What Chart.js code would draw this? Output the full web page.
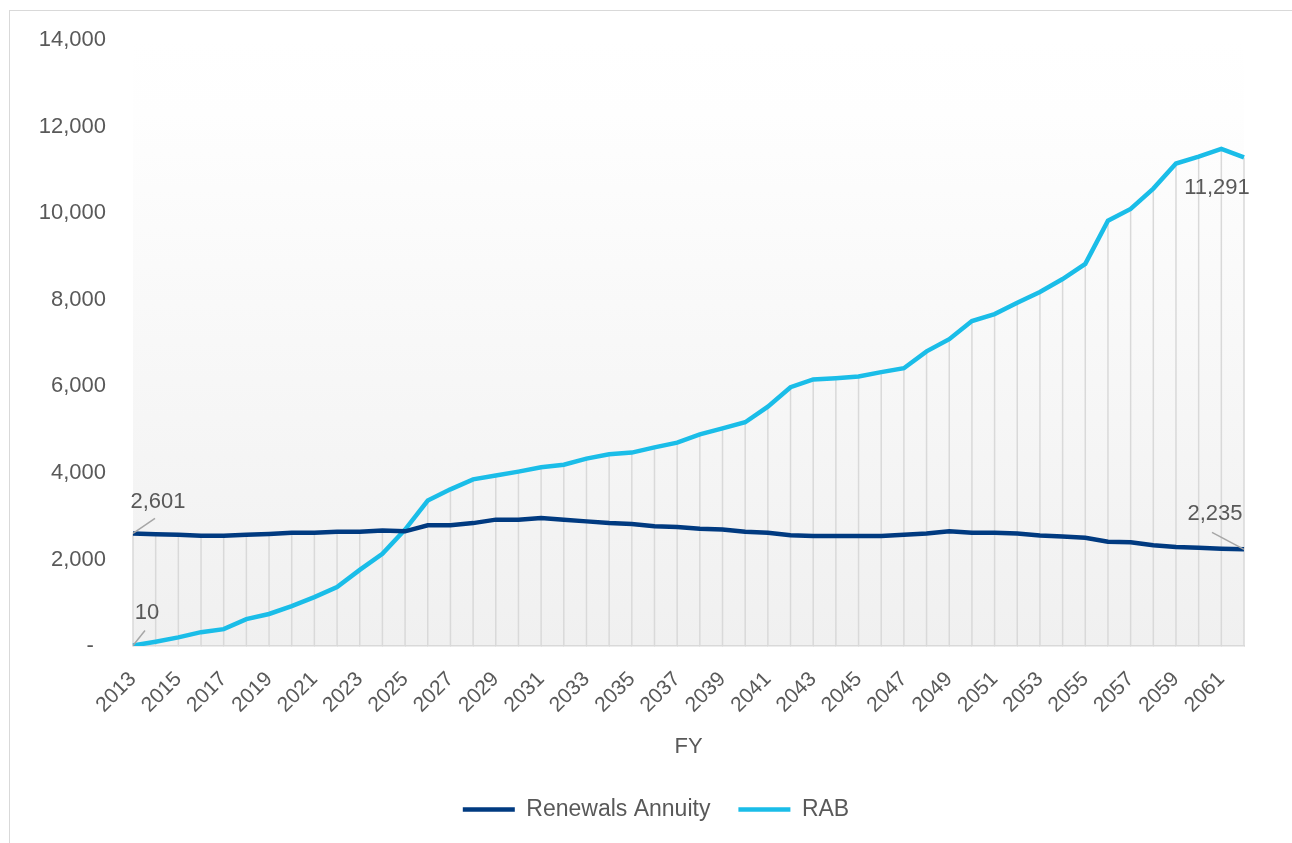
<!DOCTYPE html>
<html>
<head>
<meta charset="utf-8">
<script src="https://cdn.jsdelivr.net/npm/chart.js@4.4.1/dist/chart.umd.min.js"></script>
<style>
  body { margin: 0; background: #fff; overflow: hidden; }
  #frame { position: absolute; left: 9px; top: 10px; width: 1300px; height: 850px; border: 1px solid #d9d9d9; }
  #wrap { position: absolute; left: 0; top: 0; width: 1292px; height: 843px; }
</style>
</head>
<body>
<div id="frame"></div>
<div id="wrap"><canvas id="myChart"></canvas></div>
<script>

var years = [];
for (var y = 2013; y <= 2062; y++) years.push(String(y));

// Renewals Annuity ($m)
var renewals = [2601, 2580, 2570, 2550, 2550, 2570, 2590, 2620, 2620, 2640,
                2640, 2670, 2650, 2790, 2790, 2840, 2920, 2920, 2960, 2920,
                2880, 2840, 2820, 2770, 2750, 2710, 2690, 2640, 2615, 2560,
                2540, 2540, 2540, 2540, 2570, 2600, 2650, 2620, 2620, 2600,
                2555, 2530, 2500, 2410, 2400, 2330, 2290, 2270, 2250, 2235];

// RAB ($m)
var rab = [10, 100, 200, 320, 390, 620, 740, 920, 1130, 1360,
           1760, 2130, 2690, 3360, 3620, 3850, 3940, 4030, 4130, 4190,
           4330, 4430, 4470, 4590, 4700, 4890, 5030, 5170, 5530, 5980,
           6160, 6190, 6230, 6330, 6420, 6810, 7090, 7510, 7670, 7930,
           8180, 8480, 8830, 9830, 10100, 10570, 11150, 11310, 11490, 11291];

var yTicks = [0, 2000, 4000, 6000, 8000, 10000, 12000, 14000];

var textCol = '#595959';
var font = "'Liberation Sans', Arial, sans-serif";

function fmt(v){
  return v === 0 ? '-' : v.toLocaleString('en-US');
}

// gradient plot background
var bgPlugin = {
  id: 'bg',
  beforeDraw: function(chart){
    var a = chart.chartArea, ctx = chart.ctx;
    var g = ctx.createLinearGradient(0, a.top, 0, a.bottom);
    g.addColorStop(0, '#ffffff');
    g.addColorStop(0.12, '#fefefe');
    g.addColorStop(1, '#f0f0f0');
    ctx.save();
    ctx.fillStyle = g;
    ctx.fillRect(a.left, a.top, a.right - a.left, a.bottom - a.top);
    ctx.restore();
  }
};

// drop lines from the top series down to the axis
var dropPlugin = {
  id: 'drop',
  beforeDatasetsDraw: function(chart){
    var ctx = chart.ctx, xs = chart.scales.x, ys = chart.scales.y;
    ctx.save();
    ctx.strokeStyle = '#d9d9d9';
    ctx.lineWidth = 1.5;
    for (var i = 0; i < years.length; i++){
      var x = xs.getPixelForValue(i);
      var top = ys.getPixelForValue(Math.max(renewals[i], rab[i]));
      ctx.beginPath();
      ctx.moveTo(x, top);
      ctx.lineTo(x, ys.getPixelForValue(0));
      ctx.stroke();
    }
    ctx.restore();
  }
};

// data labels at first and last points
var labelPlugin = {
  id: 'labels',
  afterDatasetsDraw: function(chart){
    var ctx = chart.ctx, xs = chart.scales.x, ys = chart.scales.y;
    var last = years.length - 1;
    var items = [
      { i: 0, v: renewals[0], dx: 25, dy: -32, lead: [0, 0, 22, -15] },
      { i: 0, v: rab[0], dx: 14, dy: -33, lead: [0, 0, 12, -15] },
      { i: last, v: rab[last], dx: -27, dy: 31, lead: null },
      { i: last, v: renewals[last], dx: -29, dy: -35, lead: [0, 0, -32, -17] }
    ];
    ctx.save();
    ctx.font = '22px ' + font;
    ctx.fillStyle = textCol;
    ctx.textAlign = 'center';
    ctx.textBaseline = 'middle';
    items.forEach(function(it){
      var px = xs.getPixelForValue(it.i);
      var py = ys.getPixelForValue(it.v);
      if (it.lead){
        ctx.strokeStyle = '#a6a6a6';
        ctx.lineWidth = 1.5;
        ctx.beginPath();
        ctx.moveTo(px + it.lead[0], py + it.lead[1]);
        ctx.lineTo(px + it.lead[2], py + it.lead[3]);
        ctx.stroke();
      }
      ctx.fillText(fmt(it.v), px + it.dx, py + it.dy);
    });
    ctx.restore();
  }
};

var ctx = document.getElementById('myChart');
var chart = new Chart(ctx, {
  type: 'line',
  data: {
    labels: years,
    datasets: [{
      label: 'Renewals Annuity',
      data: renewals,
      borderColor: '#003A80',
      backgroundColor: '#003A80',
      borderWidth: 4.5,
      pointRadius: 0,
      tension: 0
    }, {
      label: 'RAB',
      data: rab,
      borderColor: '#1ABDE8',
      backgroundColor: '#1ABDE8',
      borderWidth: 4.5,
      pointRadius: 0,
      tension: 0
    }]
  },
  options: {
    responsive: true,
    maintainAspectRatio: false,
    animation: false,
    layout: { padding: { top: 40, right: 0, left: 20, bottom: 12 } },
    plugins: {
      tooltip: { enabled: false },
      legend: {
        position: 'bottom',
        labels: {
          usePointStyle: true,
          pointStyle: 'line',
          pointStyleWidth: 52,
          boxHeight: 20,
          color: textCol,
          font: { family: font, size: 23 },
          padding: 28
        }
      }
    },
    scales: {
      x: {
        offset: false,
        grid: { display: true, drawOnChartArea: false, tickLength: 0, color: '#d9d9d9' },
        border: { color: '#d9d9d9', width: 1.5 },
        ticks: {
          autoSkip: false,
          minRotation: 45,
          maxRotation: 45,
          padding: 21,
          color: textCol,
          font: { family: font, size: 21 },
          callback: function(v, i){ return i % 2 === 0 ? years[i] : ''; }
        },
        title: {
          display: true,
          text: 'FY',
          color: textCol,
          font: { family: font, size: 22 },
          padding: { top: 10, bottom: 10 }
        },
        afterFit: function(s){ s.height = 124; }
      },
      y: {
        min: 0,
        max: 14000,
        afterBuildTicks: function(s){ s.ticks = yTicks.map(function(v){ return { value: v }; }); },
        grid: { display: false, drawTicks: false },
        border: { display: false },
        ticks: {
          padding: 27,
          color: textCol,
          font: { family: font, size: 22 },
          callback: function(v){ return v === 0 ? '-  ' : fmt(v); }
        },
        afterFit: function(s){ s.width = 113; }
      },
      // empty right-hand spacer
      y2: {
        position: 'right',
        min: 0,
        max: 14000,
        grid: { display: false, drawTicks: false },
        border: { display: false },
        ticks: { display: false },
        afterFit: function(s){ s.width = 48; }
      }
    }
  },
  plugins: [bgPlugin, dropPlugin, labelPlugin]
});

</script>
</body>
</html>
